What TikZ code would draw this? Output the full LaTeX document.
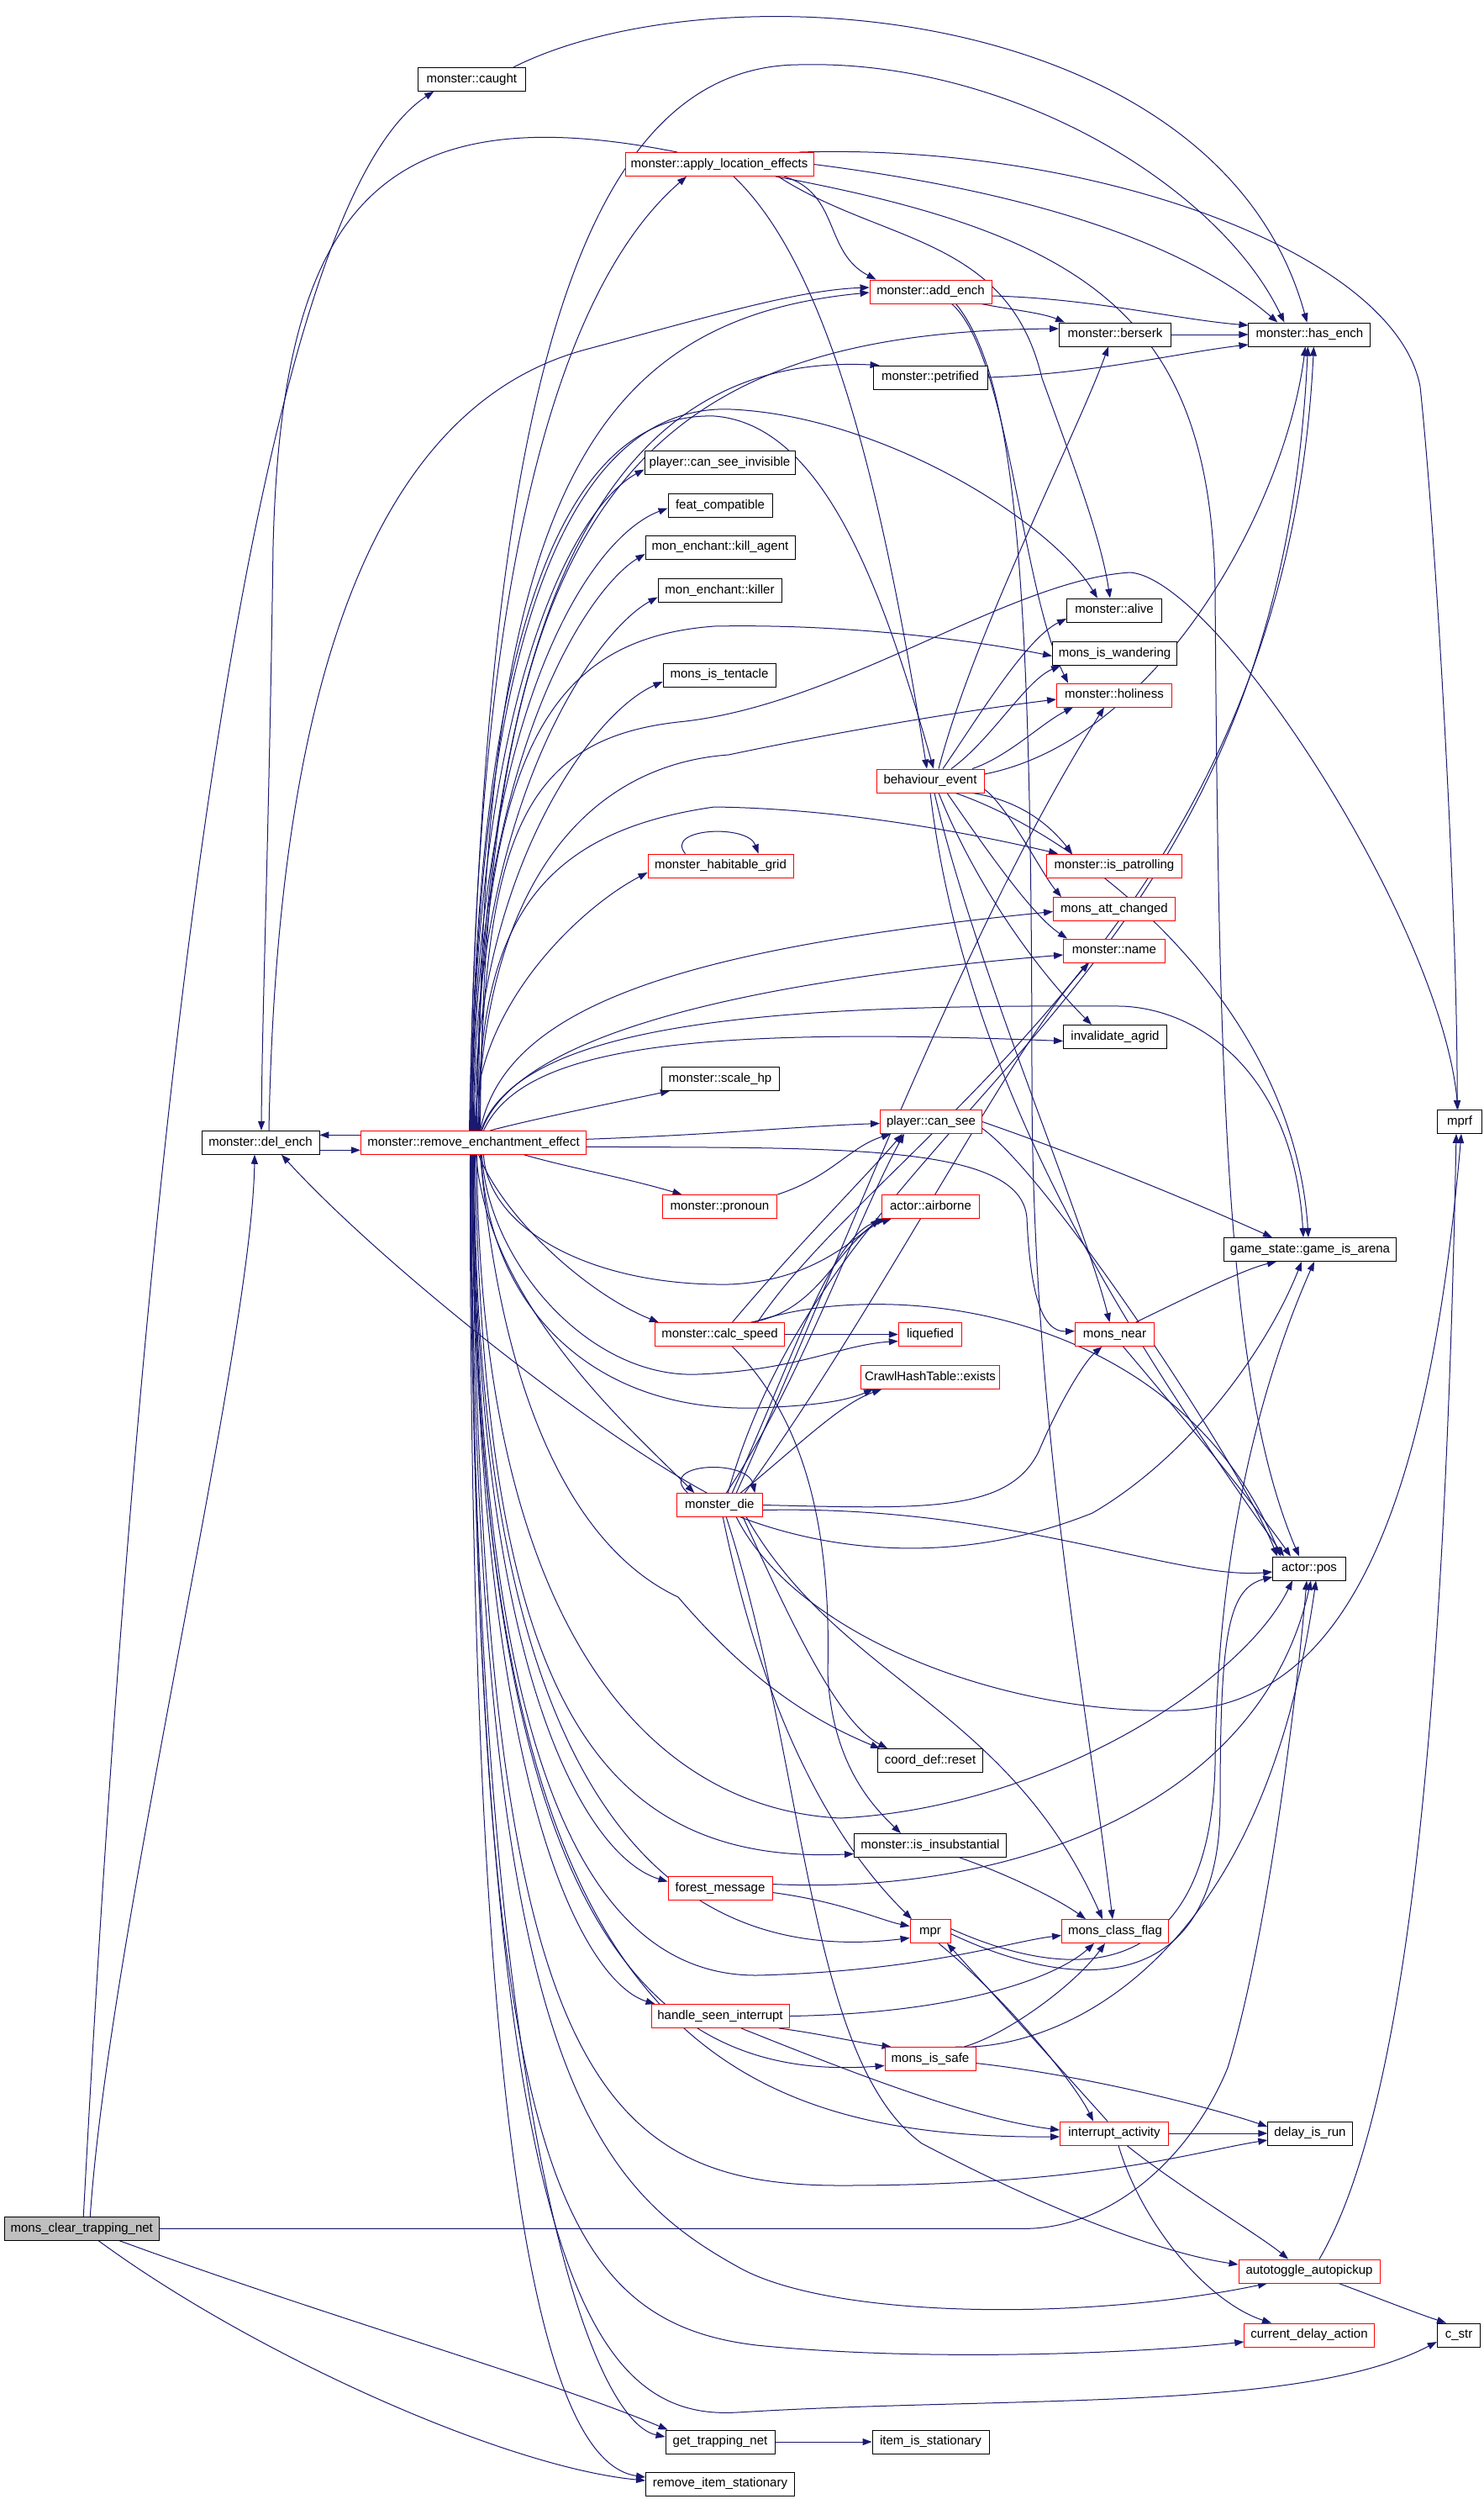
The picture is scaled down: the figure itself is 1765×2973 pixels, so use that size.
\documentclass[tikz,border=0pt]{standalone}
\usepackage{fontspec}
\setmainfont{Liberation Sans}
\usetikzlibrary{arrows.meta}
\definecolor{edgecol}{HTML}{191970}
\definecolor{gfill}{HTML}{BFBFBF}
\pgfdeclarelayer{bg}
\pgfsetlayers{bg,main}
\tikzset{
  nb/.style={draw=black, fill=white, line width=0.9pt, minimum height=28pt, inner sep=0pt,
    text height=11pt, text depth=3.3pt, font=\fontsize{15}{18}\selectfont},
  rb/.style={nb, draw=red},
  cl/.style={draw=edgecol, line width=1pt, -{Triangle[length=11pt,width=8pt]}},
}
\begin{document}
\begin{tikzpicture}[x=1pt,y=-1pt]
\useasboundingbox (0,0) rectangle (1765,2973);
% nodes
\node[nb, minimum width=184pt, fill=gfill] (MC) at (97.3,2651.3) {mons\_clear\_trapping\_net};
\node[nb, minimum width=128pt] (CA) at (561.3,94.3) {monster::caught};
\node[nb, minimum width=140pt] (DE) at (310,1359.3) {monster::del\_ench};
\node[rb, minimum width=268.5pt] (R) at (563.5,1359.3) {monster::remove\_enchantment\_effect};
\node[rb, minimum width=224pt] (A) at (856,195.5) {monster::apply\_location\_effects};
\node[rb, minimum width=145pt] (AE) at (1107.5,347) {monster::add\_ench};
\node[nb, minimum width=133pt] (BE) at (1327,398) {monster::berserk};
\node[nb, minimum width=145pt] (HE) at (1558.4,398) {monster::has\_ench};
\node[nb, minimum width=136pt] (PE) at (1107,449) {monster::petrified};
\node[nb, minimum width=179pt] (CSI) at (856.5,550.5) {player::can\_see\_invisible};
\node[nb, minimum width=124pt] (FC) at (857,601.5) {feat\_compatible};
\node[nb, minimum width=178pt] (KA) at (857,651) {mon\_enchant::kill\_agent};
\node[nb, minimum width=147pt] (KI) at (856.5,702.4) {mon\_enchant::killer};
\node[nb, minimum width=113pt] (AL) at (1326,726) {monster::alive};
\node[nb, minimum width=148pt] (WA) at (1326.5,777.4) {mons\_is\_wandering};
\node[nb, minimum width=134pt] (TE) at (856,803) {mons\_is\_tentacle};
\node[rb, minimum width=137pt] (HO) at (1326,827) {monster::holiness};
\node[rb, minimum width=128pt] (BV) at (1107,929) {behaviour\_event};
\node[rb, minimum width=173pt] (HG) at (857.5,1030) {monster\_habitable\_grid};
\node[rb, minimum width=161pt] (IP) at (1326,1030) {monster::is\_patrolling};
\node[rb, minimum width=145pt] (AC) at (1326,1081.5) {mons\_att\_changed};
\node[rb, minimum width=121pt] (NA) at (1326,1131) {monster::name};
\node[nb, minimum width=123pt] (IA) at (1327,1233.5) {invalidate\_agrid};
\node[nb, minimum width=140pt] (SH) at (857,1283.4) {monster::scale\_hp};
\node[rb, minimum width=121pt] (CS) at (1108,1334.5) {player::can\_see};
\node[nb, minimum width=52.6pt] (MP) at (1737,1334.5) {mprf};
\node[rb, minimum width=136.5pt] (PR) at (856.5,1435.5) {monster::pronoun};
\node[rb, minimum width=116.5pt] (AB) at (1107.5,1435.5) {actor::airborne};
\node[nb, minimum width=205pt] (GA) at (1559,1486.5) {game\_state::game\_is\_arena};
\node[rb, minimum width=154.5pt] (SP) at (856.5,1587.5) {monster::calc\_speed};
\node[rb, minimum width=75.5pt] (LQ) at (1107,1587.5) {liquefied};
\node[rb, minimum width=94pt] (MN) at (1326.5,1587.5) {mons\_near};
\node[rb, minimum width=165pt] (CH) at (1107,1638.5) {CrawlHashTable::exists};
\node[rb, minimum width=102pt] (MD) at (856.3,1790.5) {monster\_die};
\node[nb, minimum width=86.6pt] (PO) at (1558,1866) {actor::pos};
\node[nb, minimum width=125pt] (CR) at (1107,2094.5) {coord\_def::reset};
\node[nb, minimum width=181pt] (IS) at (1107,2195.5) {monster::is\_insubstantial};
\node[rb, minimum width=124pt] (FM) at (857,2246.5) {forest\_message};
\node[rb, minimum width=48pt] (MR) at (1107,2297.5) {mpr};
\node[rb, minimum width=127pt] (CF) at (1327,2297.5) {mons\_class\_flag};
\node[rb, minimum width=164pt] (HS) at (857,2398.5) {handle\_seen\_interrupt};
\node[rb, minimum width=108pt] (SA) at (1107,2449.5) {mons\_is\_safe};
\node[rb, minimum width=129pt] (IN) at (1326,2538) {interrupt\_activity};
\node[nb, minimum width=100.6pt] (DR) at (1559,2538) {delay\_is\_run};
\node[rb, minimum width=168pt] (AT) at (1558,2702) {autotoggle\_autopickup};
\node[nb, minimum width=51.5pt] (CT) at (1736,2778) {c\_str};
\node[rb, minimum width=154.5pt] (CD) at (1558,2778) {current\_delay\_action};
\node[nb, minimum width=130pt] (GT) at (857,2905) {get\_trapping\_net};
\node[nb, minimum width=139pt] (IT) at (1107.5,2905) {item\_is\_stationary};
\node[nb, minimum width=177pt] (RI) at (857,2955) {remove\_item\_stationary};

\begin{pgfonlayer}{bg}
\fill[white] (0,0) rectangle (1765,2973);
% MC
\draw[cl] ([xshift=2]MC.north) .. controls (170,1300) and (300,250) .. ([xshift=-45]CA.south);
\draw[cl] ([xshift=10]MC.north) .. controls (130,2300) and (300,1600) .. ([xshift=-7]DE.south);
\draw[cl] (MC.east) -- (1224,2651.3) .. controls (1330,2648) and (1420,2560) .. (1461,2460) .. controls (1510,2300) and (1545,2000) .. ([xshift=-3]PO.south);
\draw[cl] ([xshift=45]MC.south) .. controls (400,2760) and (650,2830) .. ([xshift=3]GT.north west);
\draw[cl] ([xshift=20]MC.south) .. controls (300,2800) and (600,2935) .. ([yshift=4]RI.west);
% CA
\draw[cl] ([xshift=50]CA.north) .. controls (850,-40) and (1450,0) .. ([xshift=-3]HE.north);
% DE
\draw[cl] ([yshift=-9]DE.east) -- ([yshift=-9]R.west);
\draw[cl] ([yshift=9]R.west) -- ([yshift=9]DE.east);
\draw[cl] ([xshift=10]DE.north) .. controls (330,800) and (450,480) .. (700,415) .. controls (850,375) and (950,345) .. ([yshift=5]AE.west);
% A
\draw[cl] ([xshift=-50]A.north) .. controls (450,110) and (335,250) .. (325,650) .. controls (320,1000) and (312,1200) .. ([xshift=1]DE.north);
\draw[cl] ([xshift=77]A.south) .. controls (1000,230) and (980,300) .. ([xshift=-65]AE.north);
\draw[cl] (A.east) .. controls (1200,225) and (1400,280) .. ([xshift=-38]HE.north);
\draw[cl] ([xshift=95]A.north) .. controls (1300,170) and (1660,300) .. (1690,460) .. controls (1710,650) and (1735,1100) .. ([xshift=-3]MP.north);
\draw[cl] ([xshift=70]A.south) .. controls (1050,290) and (1200,280) .. (1240,450) .. controls (1280,560) and (1310,640) .. ([xshift=-5]AL.north);
\draw[cl] ([xshift=67]A.south) .. controls (1300,280) and (1440,380) .. (1446,700) .. controls (1450,1300) and (1460,1650) .. ([xshift=-12]PO.north);
\draw[cl] ([xshift=17]A.south) .. controls (1000,330) and (1060,650) .. ([xshift=-4]BV.north);
% AE
\draw[cl] ([yshift=-5]AE.east) .. controls (1300,355) and (1400,380) .. ([yshift=11]HE.west);
\draw[cl] ([xshift=60]AE.south) .. controls (1200,368) and (1240,372) .. ([xshift=-60]BE.north);
\draw[cl] ([xshift=25]AE.south) .. controls (1200,420) and (1215,700) .. ([xshift=-55]HO.north);
\draw[cl] ([xshift=30]AE.south) .. controls (1210,450) and (1228,700) .. (1228,1300) .. controls (1230,1700) and (1290,2000) .. ([xshift=-3]CF.north);
% BE, PE
\draw[cl] (BE.east) -- (HE.west);
\draw[cl] (PE.east) .. controls (1300,445) and (1400,420) .. ([yshift=-12]HE.west);
% R fan upward
\draw[cl] ([xshift=-4]R.north) .. controls (565,600) and (690,320) .. ([xshift=-39]A.south);
\draw[cl] ([xshift=6]R.north) .. controls (570,600) and (700,380) .. ([yshift=-1]AE.west);
\draw[cl] ([xshift=8]R.north) .. controls (575,600) and (760,395) .. ([yshift=7]BE.west);
\draw[cl] ([xshift=3]R.north) .. controls (575,650) and (760,420) .. ([xshift=8]PE.north west);
\draw[cl] ([xshift=-3]R.north) .. controls (565,800) and (690,600) .. ([yshift=-8]CSI.west);
\draw[cl] ([xshift=-2]R.north) .. controls (563,850) and (700,640) .. ([yshift=-3]FC.west);
\draw[cl] ([xshift=-1]R.north) .. controls (562,900) and (700,700) .. ([yshift=-8]KA.west);
\draw[cl] (R.north) .. controls (562,950) and (710,750) .. ([yshift=-8]KI.west);
\draw[cl] ([xshift=1]R.north) .. controls (562,1050) and (700,850) .. ([yshift=-8]TE.west);
\draw[cl] ([xshift=2]R.north) .. controls (562,1200) and (690,1080) .. ([yshift=-8]HG.west);
\draw[cl] ([xshift=20]R.north) .. controls (640,1330) and (740,1310) .. ([xshift=-60]SH.south);
\draw[cl] ([xshift=4]R.north) .. controls (570,900) and (650,760) .. (850,745) .. controls (1000,742) and (1150,760) .. ([yshift=-3]WA.west);
\draw[cl] ([xshift=5]R.north) .. controls (575,1050) and (700,910) .. (867,898) .. controls (1000,870) and (1150,845) .. ([yshift=-5]HO.west);
\draw[cl] ([xshift=6]R.north) .. controls (568,1100) and (640,990) .. (850,960) .. controls (1000,962) and (1150,990) .. ([xshift=14]IP.north west);
\draw[cl] ([xshift=8]R.north) .. controls (600,1200) and (800,1130) .. ([yshift=-3]AC.west);
\draw[cl] ([xshift=10]R.north) .. controls (610,1240) and (850,1170) .. ([yshift=-5]NA.west);
\draw[cl] ([xshift=12]R.north) .. controls (620,1250) and (800,1220) .. ([yshift=-5]IA.west);
\draw[cl] ([yshift=4]R.east) .. controls (850,1350) and (950,1340) .. ([yshift=-2]CS.west);
\draw[cl] ([yshift=-5]R.east) .. controls (1000,1366) and (1215,1360) .. (1222,1449) .. controls (1226,1540) and (1240,1585) .. ([yshift=4]MN.west);
\draw[cl] ([xshift=-2]R.north) .. controls (565,700) and (700,480) .. (870,487) .. controls (1050,495) and (1250,620) .. ([xshift=-20]AL.north);
\draw[cl] ([xshift=-3]R.north) .. controls (565,700) and (690,490) .. (850,495) .. controls (980,505) and (1050,700) .. ([xshift=4]BV.north);
\draw[cl] ([xshift=-5]R.north) .. controls (575,500) and (680,80) .. (950,77) .. controls (1200,70) and (1450,220) .. ([xshift=-30]HE.north);
\draw[cl] ([xshift=7]R.north) .. controls (575,1000) and (620,880) .. (807,859) .. controls (1000,840) and (1200,690) .. (1345,681) .. controls (1450,690) and (1715,1100) .. ([xshift=-2]MP.north);
\draw[cl] ([xshift=9]R.north) .. controls (620,1210) and (950,1195) .. (1334,1197) .. controls (1430,1200) and (1540,1280) .. ([xshift=-8]GA.north);
% R fan downward
\draw[cl] ([xshift=6]R.south) .. controls (600,1450) and (700,1540) .. ([xshift=5]SP.north west);
\draw[cl] ([xshift=3]R.south) .. controls (580,1550) and (750,1700) .. ([xshift=-30]MD.north);
\draw[cl] (R.south) .. controls (565,2000) and (700,2210) .. ([yshift=8]FM.west);
\draw[cl] ([xshift=-1]R.south) .. controls (563,2150) and (700,2360) .. ([xshift=5]HS.north west);
\draw[cl] ([xshift=-3]R.south) .. controls (560,2500) and (700,2880) .. ([yshift=6]GT.west);
\draw[cl] ([xshift=-4]R.south) .. controls (558,2600) and (650,2930) .. ([yshift=8]RI.west);
\draw[cl] ([xshift=8]R.south) .. controls (600,1700) and (700,1850) .. (807,1900) .. controls (880,1985) and (950,2040) .. ([xshift=3]CR.north west);
\draw[cl] ([xshift=2]R.south) .. controls (575,2000) and (700,2220) .. ([yshift=-10]IS.west);
\draw[cl] ([xshift=1]R.south) .. controls (565,2150) and (800,2340) .. ([yshift=-8]MR.west);
\draw[cl] (R.south) .. controls (565,2100) and (700,2350) .. (900,2350) .. controls (1100,2345) and (1200,2310) .. ([yshift=-5]CF.west);
\draw[cl] ([xshift=-1]R.south) .. controls (565,2250) and (750,2480) .. ([yshift=-8]SA.west);
\draw[cl] ([xshift=-2]R.south) .. controls (565,2350) and (800,2545) .. ([yshift=-4]IN.west);
\draw[cl] ([xshift=-2]R.south) .. controls (570,2450) and (700,2600) .. (1000,2600) .. controls (1300,2600) and (1420,2560) .. ([yshift=-8]DR.west);
\draw[cl] ([xshift=-3]R.south) .. controls (565,2450) and (700,2600) .. (884,2700) .. controls (1000,2760) and (1300,2760) .. ([xshift=-50]AT.south);
\draw[cl] ([xshift=-3]R.south) .. controls (565,2550) and (650,2760) .. (900,2790) .. controls (1100,2810) and (1350,2800) .. ([yshift=-8]CD.west);
\draw[cl] ([xshift=-4]R.south) .. controls (565,2700) and (700,2880) .. (877,2870) .. controls (1200,2850) and (1550,2870) .. ([yshift=-8]CT.west);
\draw[cl] ([xshift=4]R.south) .. controls (570,1900) and (750,2150) .. (1000,2163) .. controls (1250,2150) and (1480,2000) .. ([xshift=-20]PO.south);
\draw[cl] ([xshift=10]R.south) .. controls (580,1500) and (700,1640) .. (830,1635) .. controls (950,1630) and (1000,1600) .. ([yshift=-8]LQ.west);
\draw[cl] ([xshift=9]R.south) .. controls (580,1550) and (700,1680) .. (900,1675) .. controls (980,1672) and (1010,1665) .. ([xshift=15]CH.south west);
\draw[cl] ([xshift=12]R.south) .. controls (580,1460) and (700,1530) .. (867,1528) .. controls (950,1525) and (1000,1490) .. ([xshift=-2]AB.south west);
\draw[cl] ([xshift=60]R.south) .. controls (680,1390) and (740,1400) .. ([xshift=-45]PR.north);
% self loops
\draw[cl] ([xshift=-42]HG.north) .. controls (790,985) and (890,980) .. ([xshift=45]HG.north);
\draw[cl] ([xshift=-38]MD.north) .. controls (780,1740) and (890,1735) .. ([xshift=42]MD.north);
% BV
\draw[cl] ([xshift=10]BV.north) .. controls (1160,750) and (1280,520) .. ([xshift=-8]BE.south);
\draw[cl] ([yshift=8]BV.east) .. controls (1380,880) and (1530,600) .. ([xshift=-5]HE.south);
\draw[cl] ([xshift=15]BV.north) .. controls (1160,860) and (1220,760) .. ([yshift=-10]AL.west);
\draw[cl] ([xshift=25]BV.north) .. controls (1180,880) and (1220,810) .. ([xshift=10]WA.south west);
\draw[cl] ([xshift=50]BV.north) .. controls (1200,900) and (1240,860) .. ([xshift=20]HO.south west);
\draw[cl] ([xshift=50]BV.south) .. controls (1200,950) and (1240,970) .. ([xshift=-50]IP.north);
\draw[cl] ([yshift=-10]BV.east) .. controls (1200,960) and (1240,1040) .. ([xshift=10]AC.north west);
\draw[cl] ([xshift=20]BV.south) .. controls (1180,1020) and (1230,1090) .. ([xshift=5]NA.north west);
\draw[cl] ([xshift=10]BV.south) .. controls (1160,1050) and (1230,1150) .. ([xshift=-28]IA.north);
\draw[cl] ([xshift=5]BV.south) .. controls (1160,1150) and (1290,1450) .. ([xshift=-6]MN.north);
\draw[cl] (BV.south) .. controls (1150,1300) and (1350,1600) .. ([xshift=-30]PO.north);
\draw[cl] ([xshift=30]BV.south) .. controls (1300,1000) and (1540,1200) .. ([xshift=-2]GA.north);
% SP
\draw[cl] ([xshift=15]SP.north) .. controls (950,1480) and (1030,1400) .. ([xshift=-34]CS.south);
\draw[cl] ([xshift=37]SP.north) .. controls (980,1560) and (1000,1470) .. ([xshift=12]AB.south west);
\draw[cl] (SP.east) -- (LQ.west);
\draw[cl] ([xshift=15]SP.south) .. controls (950,1680) and (990,1800) .. (985,1990) .. controls (990,2100) and (1040,2150) .. ([xshift=-35]IS.north);
\draw[cl] ([xshift=40]SP.north) .. controls (1050,1520) and (1400,1550) .. ([xshift=-34]PO.north);
\draw[cl] ([xshift=45]SP.north) .. controls (1050,1350) and (1530,1100) .. ([xshift=5]HE.south);
% PR, CS, MN
\draw[cl] (PR.north east) .. controls (990,1400) and (1010,1365) .. ([xshift=-48]CS.south);
\draw[cl] (CS.east) .. controls (1300,1380) and (1420,1430) .. ([xshift=-45]GA.north);
\draw[cl] ([yshift=-8]CS.east) .. controls (1250,1400) and (1480,1750) .. ([xshift=-38]PO.north);
\draw[cl] ([xshift=25]MN.north) .. controls (1420,1540) and (1480,1510) .. ([xshift=-40]GA.south);
\draw[cl] ([xshift=10]MN.south) .. controls (1420,1700) and (1500,1800) .. ([xshift=-22]PO.north);
% MD
\draw[cl] ([xshift=-15]MD.north) .. controls (700,1700) and (450,1500) .. ([xshift=25]DE.south);
\draw[cl] ([xshift=8]MD.north) .. controls (950,1650) and (1020,1450) .. ([xshift=-32]CS.south);
\draw[cl] ([xshift=15]MD.north) .. controls (950,1600) and (990,1470) .. ([xshift=5]AB.south west);
\draw[cl] ([xshift=25]MD.north) .. controls (950,1720) and (1000,1670) .. ([xshift=25]CH.south west);
\draw[cl] (MD.east) .. controls (1100,1795) and (1200,1800) .. (1236,1727) .. controls (1260,1670) and (1290,1620) .. ([xshift=-15]MN.south);
\draw[cl] ([xshift=25]MD.south) .. controls (1000,1850) and (1150,1860) .. (1300,1800) .. controls (1420,1730) and (1510,1600) .. ([xshift=-10]GA.south);
\draw[cl] ([yshift=-6]MD.east) .. controls (1200,1790) and (1400,1880) .. ([yshift=-4]PO.west);
\draw[cl] ([xshift=20]MD.south) .. controls (950,1950) and (1200,2040) .. (1400,2035) .. controls (1600,2030) and (1700,1800) .. ([xshift=2]MP.south);
\draw[cl] ([xshift=20]MD.north) .. controls (1000,1500) and (1150,1100) .. ([xshift=-12]HO.south);
\draw[cl] ([xshift=30]MD.north) .. controls (1050,1550) and (1200,1250) .. ([xshift=-30]NA.south);
\draw[cl] ([xshift=10]MD.north) .. controls (1000,1300) and (1520,1200) .. ([xshift=-2]HE.south);
\draw[cl] ([xshift=28]MD.south) .. controls (950,1950) and (1000,2050) .. ([xshift=12]CR.north west);
\draw[cl] ([xshift=32]MD.south) .. controls (1000,2000) and (1200,2030) .. ([xshift=-15]CF.north);
\draw[cl] ([xshift=4]MD.south) .. controls (890,1950) and (950,2150) .. ([xshift=-22]MR.north);
\draw[cl] ([xshift=8]MD.south) .. controls (960,2100) and (960,2450) .. (1097,2550) .. controls (1250,2630) and (1380,2680) .. ([yshift=8]AT.west);
% FM, HS
\draw[cl] ([yshift=-5]FM.east) .. controls (1000,2262) and (1050,2285) .. ([yshift=6]MR.west);
\draw[cl] ([yshift=5]FM.east) .. controls (1200,2255) and (1500,2150) .. ([xshift=2]PO.south);
\draw[cl] (HS.east) .. controls (1150,2395) and (1260,2350) .. ([xshift=-25]CF.south);
\draw[cl] ([xshift=70]HS.south) .. controls (980,2420) and (1020,2430) .. ([xshift=8]SA.north west);
\draw[cl] ([xshift=25]HS.south) .. controls (1000,2460) and (1150,2520) .. ([yshift=4]IN.west);
% MR, IN
\draw[cl] ([xshift=10]MR.south) .. controls (1200,2380) and (1280,2480) .. ([xshift=-25]IN.north);
\draw[cl] ([xshift=-8]IN.north) .. controls (1270,2470) and (1180,2370) .. ([xshift=20]MR.south);
\draw[cl] ([yshift=-3]MR.east) .. controls (1300,2380) and (1450,2360) .. (1452,2150) .. controls (1452,1950) and (1460,1890) .. ([yshift=-10]PO.west);
\draw[cl] ([yshift=3]MR.east) .. controls (1300,2370) and (1440,2340) .. (1446,2100) .. controls (1448,1800) and (1520,1600) .. ([xshift=5]GA.south);
\draw[cl] (IN.east) -- (DR.west);
\draw[cl] ([xshift=15]IN.south) .. controls (1400,2600) and (1500,2660) .. ([xshift=-25]AT.north);
\draw[cl] ([xshift=5]IN.south) .. controls (1360,2650) and (1440,2740) .. ([xshift=-45]CD.north);
% SA, IS
\draw[cl] ([xshift=40]SA.north) .. controls (1200,2420) and (1280,2360) .. ([xshift=-12]CF.south);
\draw[cl] ([xshift=30]SA.north) .. controls (1250,2440) and (1500,2350) .. ([xshift=8]PO.south);
\draw[cl] ([yshift=-5]SA.east) .. controls (1300,2470) and (1450,2510) .. ([yshift=8]DR.west);
\draw[cl] ([xshift=35]IS.south) .. controls (1200,2230) and (1260,2260) .. ([xshift=-35]CF.north);
% AT, GT
\draw[cl] ([xshift=12]AT.north) .. controls (1680,2500) and (1720,2000) .. ([xshift=-4]MP.south);
\draw[cl] ([xshift=35]AT.south) .. controls (1630,2730) and (1680,2750) .. ([xshift=-15]CT.north);
\draw[cl] (GT.east) -- (IT.west);
\end{pgfonlayer}
\end{tikzpicture}
\end{document}
